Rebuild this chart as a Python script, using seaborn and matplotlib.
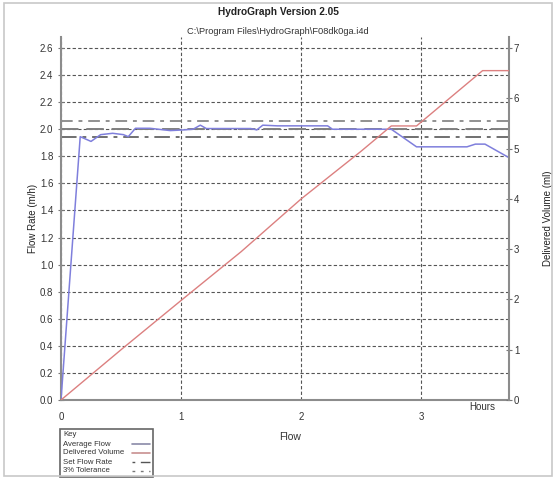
import matplotlib
matplotlib.use("Agg")
import matplotlib.pyplot as plt
import seaborn as sns
import pandas as pd
from matplotlib.lines import Line2D
from matplotlib.patches import Rectangle

# values
flow_hours = [0, 0.16, 0.25, 0.33, 0.43, 0.52, 0.56, 0.62, 0.74, 0.91, 1.02, 1.10, 1.16, 1.21,
              1.58, 1.63, 1.68, 1.80, 2.22, 2.26, 2.75, 2.96, 3.38, 3.45, 3.53, 3.73]
flow_rate = [0, 1.945, 1.91, 1.96, 1.97, 1.96, 1.945, 2.007, 2.007, 1.99, 1.995, 2.0, 2.03, 2.005,
             2.005, 1.995, 2.03, 2.025, 2.025, 2.0, 2.0, 1.87, 1.87, 1.89, 1.89, 1.79]
volume_hours = [0, 0.5, 1.0, 1.5, 2.0, 2.5, 2.75, 2.96, 3.51, 3.73]
volume_ml = [0, 1.0, 1.98, 2.95, 4.0, 4.95, 5.45, 5.45, 6.55, 6.55]
set_rate = 2.0
tolerance = [2.06, 1.94]
x_ticks = [0, 1, 2, 3]
left_ticks = [0.0, 0.2, 0.4, 0.6, 0.8, 1.0, 1.2, 1.4, 1.6, 1.8, 2.0, 2.2, 2.4, 2.6]
right_ticks = [0, 1, 2, 3, 4, 5, 6, 7]
legend_labels = ["Average Flow", "Delivered Volume", "Set Flow Rate", "3% Tolerance"]

flow = pd.DataFrame({"hours": flow_hours, "rate": flow_rate})
vol = pd.DataFrame({"hours": volume_hours, "ml": volume_ml})

sns.set_style("white")
plt.rcParams['font.family'] = ['Liberation Sans', 'DejaVu Sans']

W, H = 556, 479
fig = plt.figure(figsize=(W / 100, H / 100), dpi=100)
ax = fig.add_axes([61 / W, 1 - 400 / H, (509 - 61) / W, (400 - 37) / H])
ax2 = ax.twinx()

axis_col = '#8c8c8c'
txt_col = '#333333'
blue = '#7f7fdc'
red = '#dc8080'

# grid
ax.set_xlim(0, 3.73)
ax.set_ylim(0, 2.6 * 363 / 352)
ax2.set_ylim(0, 7 * 363 / 352)
ax.set_xticks(x_ticks)
ax.set_yticks(left_ticks)
ax2.set_yticks(right_ticks)
ax.grid(True, color='#555555', linestyle=(0, (3, 2)), linewidth=0.8)

# reference lines
ax.axhline(set_rate, color='#808080', linestyle=(0, (9, 4)), linewidth=1.4, zorder=2)
ax.axhline(tolerance[0], color='#909090', linestyle=(0, (6, 3, 2, 3)), linewidth=1.4, zorder=2)
ax.axhline(tolerance[1], color='#707070', linestyle=(0, (8, 3, 2, 3)), linewidth=1.4, zorder=2)

sns.lineplot(data=flow, x="hours", y="rate", ax=ax, color=blue, linewidth=1.1, zorder=3)
sns.lineplot(data=vol, x="hours", y="ml", ax=ax2, color=red, linewidth=1.0, zorder=3)

ax.set_xlabel("")
ax.set_ylabel("Flow Rate (m/h)", fontsize=7, color='#222222')
ax.yaxis.set_label_coords((38 - 61) / 448, 0.5)
ax2.set_xlabel("")
ax2.set_ylabel("Delivered Volume (ml)", fontsize=7, color='#222222', rotation=90)
ax2.yaxis.set_label_coords((543 - 61) / 448, 0.5)

ax.set_yticklabels([f"{v:.1f}" for v in left_ticks])
ax2.set_yticklabels([str(v) for v in right_ticks])
ax.set_xticklabels([str(v) for v in x_ticks])

for a in (ax, ax2):
    for s in a.spines.values():
        s.set_visible(False)
ax.spines['left'].set_visible(True)
ax.spines['bottom'].set_visible(True)
ax2.spines['right'].set_visible(True)
for s in (ax.spines['left'], ax.spines['bottom'], ax2.spines['right']):
    s.set_color(axis_col)
    s.set_linewidth(1.5)

ax.tick_params(axis='both', direction='inout', length=5, width=0.8, color='#777777',
               labelsize=7, labelcolor=txt_col, pad=3)
ax.tick_params(axis='x', pad=6)
ax2.tick_params(axis='y', direction='inout', length=5, width=0.8, color='#777777',
                labelsize=7, labelcolor=txt_col, pad=1)

# titles and texts
fig.text(278 / W, 1 - 12 / H, "HydroGraph Version 2.05", ha='center', va='center',
         fontsize=7.3, fontweight='bold', color='#222222')
fig.text(278 / W, 1 - 31 / H, "C:\\Program Files\\HydroGraph\\F08dk0ga.i4d", ha='center',
         va='center', fontsize=6.7, color=txt_col)
fig.text(482 / W, 1 - 407 / H, "Hours", ha='center', va='center', fontsize=7, color=txt_col)
fig.text(290 / W, 1 - 437 / H, "Flow", ha='center', va='center', fontsize=7.5, color=txt_col)

# key box (text left, line sample right, like the original)
handle_styles = [
    dict(color='#8a8aa8', linewidth=1.2, linestyle='-'),
    dict(color='#c89090', linewidth=1.2, linestyle='-'),
    dict(color='#555555', linewidth=1.0, linestyle=(0, (2, 4, 10, 1))),
    dict(color='#777777', linewidth=1.0, linestyle=(0, (2, 4))),
]
fig.patches.append(Rectangle((60 / W, 1 - 477 / H), 93 / W, 48 / H, transform=fig.transFigure,
                             fill=False, edgecolor='#666666', linewidth=1.2))
fig.text(63 / W, 1 - 435 / H, "Key", ha='left', va='center', fontsize=5.6, color=txt_col)
rows_y = [444, 453, 462, 471]
for label, style, yy in zip(legend_labels, handle_styles, rows_y):
    fig.text(63 / W, 1 - yy / H, label, ha='left', va='center', fontsize=5.6, color=txt_col)
    fig.lines.append(Line2D([132 / W, 150 / W], [1 - yy / H, 1 - yy / H],
                            transform=fig.transFigure, **style))

# outer frame of the screenshot
fig.patches.append(Rectangle((4 / W, 3 / H), 548 / W, 473 / H, transform=fig.transFigure,
                             fill=False, edgecolor='#c8c8c8', linewidth=1.2))

fig.savefig("out.png", dpi=100)
